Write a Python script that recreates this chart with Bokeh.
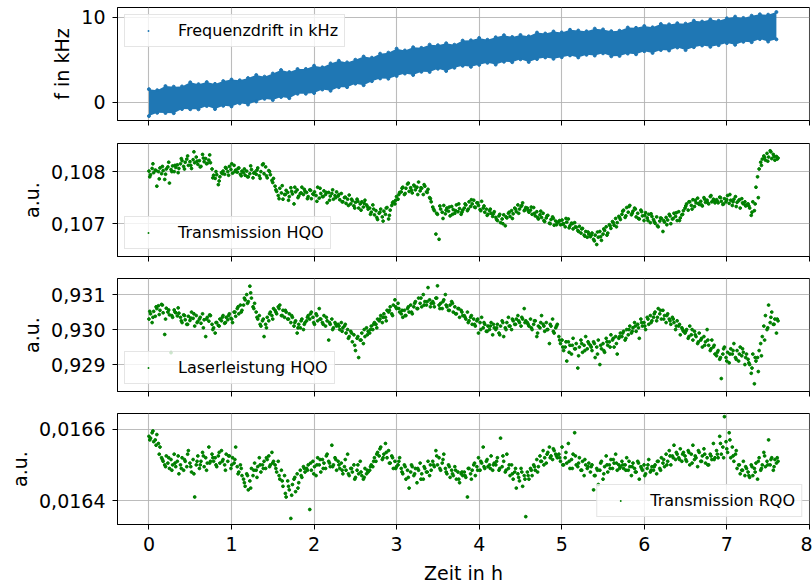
import numpy as np
from bokeh.plotting import figure
from bokeh.layouts import column
from bokeh.models import (Range1d, FixedTicker, CustomJSTickFormatter, Legend,
                          LegendItem, ColumnDataSource)
from bokeh.embed import file_html
from bokeh.resources import INLINE

# ---------------- data ----------------
# Frequenzdrift: upper / lower edge of the dense point band (kHz), every 0.1 h
t_edge = [round(0.1 * i, 1) for i in range(77)]
freq_upper = [1.55, 1.43, 1.91, 1.84, 1.87, 2.35, 2.14, 2.38, 2.17, 2.50,
              2.68, 2.59, 2.85, 3.21, 3.02, 3.38, 3.79, 3.55, 3.91, 3.92,
              4.30, 4.11, 4.57, 4.88, 4.69, 5.00, 5.37, 5.24, 5.71, 5.83,
              6.30, 6.08, 6.46, 6.39, 6.77, 6.70, 6.93, 6.76, 7.24, 7.27,
              7.55, 7.34, 7.63, 7.87, 7.66, 7.90, 7.74, 8.18, 8.07, 8.31,
              8.20, 8.51, 8.42, 8.33, 8.64, 8.55, 8.35, 8.40, 8.77, 8.74,
              8.95, 8.80, 9.19, 9.14, 9.28, 9.23, 9.57, 9.47, 9.71, 9.56,
              9.85, 10.05, 9.90, 10.16, 10.32, 10.28, 10.59]
freq_lower = [-1.60, -1.22, -1.24, -1.26, -0.78, -0.80, -0.81, -0.42, -0.78, -0.40,
              -0.47, -0.11, -0.25, 0.11, 0.42, 0.28, 0.64, 0.50, 1.01, 1.02,
              1.10, 1.51, 1.37, 1.78, 1.79, 2.20, 2.02, 2.49, 2.81, 2.78,
              3.10, 3.38, 3.21, 3.59, 3.57, 3.95, 3.68, 4.06, 4.29, 4.17,
              4.40, 4.64, 4.43, 4.77, 4.71, 5.05, 4.74, 5.08, 5.27, 5.11,
              5.30, 5.51, 5.27, 5.58, 5.49, 5.75, 5.40, 5.45, 5.72, 5.64,
              6.00, 5.80, 6.14, 6.09, 6.43, 6.13, 6.47, 6.67, 6.51, 6.71,
              6.95, 6.75, 7.10, 7.06, 7.42, 7.13, 7.39]

# measurement times of the scans (h): main series and interleaved second series
t_scan = np.linspace(0.0, 7.62, 400)
t_scan2 = np.linspace(0.01, 7.61, 200)

# Transmission HQO: offset from 0.107 in units of 1e-6
trans_hqo_u = [
    1010, 940, 1060, 980, 1030, 720, 1000, 1070, 960, 1020, 850, 1050, 1090, 780, 1040, 1110, 1000, 1080, 1130, 1060,
    1150, 1210, 1100, 1180, 1240, 1120, 1190, 1060, 1230, 1170, 1280, 1140, 1210, 1100, 1330, 1190, 1250, 1160, 1220, 1170,
    1050, 930, 870, 940, 750, 900, 980, 1010, 950, 1060, 1000, 1100, 1040, 970, 1120, 1030, 990, 1070, 950, 1010,
    980, 930, 1010, 900, 960, 1040, 880, 990, 950, 1070, 920, 1000, 1130, 960, 1090, 880, 1020, 940, 830, 870,
    720, 620, 540, 680, 590, 470, 560, 640, 600, 520, 690, 570, 380, 610, 650, 530, 580, 700, 560, 620,
    600, 520, 650, 480, 570, 610, 540, 700, 490, 580, 520, 630, 560, 400, 600, 530, 580, 470, 540, 610,
    530, 460, 580, 420, 500, 390, 470, 550, 380, 440, 340, 410, 470, 300, 380, 420, 320, 450, 360, 280,
    300, 220, 360, 170, 250, 80, 200, 280, 130, 240, 180, 310, 90, 260, 350, 420, 380, 520, 470, 600,
    610, 700, 560, 680, 760, 620, 690, 590, 740, 650, 700, 800, 630, 680, 560, 720, 610, 660, 500, 420,
    320, 250, -200, 180, -300, 280, 220, 350, 190, 300, 240, 150, 330, 270, 200, 360, 230, 290, 180, 260,
    300, 360, 250, 420, 330, 380, 450, 310, 400, 350, 270, 430, 300, 220, 280, 180, 250, 200, 140, 230,
    120, 60, 150, 20, 90, 170, -40, 110, 200, 140, 250, 190, 300, 230, 360, 280, 330, 400, 250, 310,
    300, 220, 260, 180, 310, 150, 230, 90, 170, 120, 200, 40, 110, 160, 10, 80, 130, -30, 50, 20,
    40, -20, 70, 0, -60, 30, 90, -40, 10, -100, 20, -70, -130, -50, -180, -90, -220, -150, -260, -200,
    -250, -180, -300, -220, -400, -260, -150, -320, -200, -130, -60, -180, -20, -90, 40, -30, 100, 20, 140, 80,
    180, 260, 120, 310, 220, 350, 170, 240, 300, 130, 200, 90, 260, 150, 60, 210, 110, 180, 20, 140,
    80, 10, 130, -60, 50, 100, -150, 30, 120, 70, 180, 0, 90, 200, 140, 60, 230, 110, 170, 250,
    300, 380, 260, 420, 350, 460, 330, 400, 490, 370, 430, 340, 500, 410, 450, 380, 520, 420, 470, 400,
    460, 400, 510, 430, 370, 480, 420, 540, 390, 450, 350, 470, 520, 410, 440, 300, 480, 380, 420, 360,
    380, 300, 160, 420, 250, 700, 900, 1050, 1180, 1240, 1300, 1220, 1350, 1280, 1400, 1250, 1330, 1220, 1290, 1260,
]
trans_hqo_u2 = [
    900, 1150, 1020, 860, 1100, 950, 1180, 1000, 1120, 980,
    1250, 1050, 1300, 1120, 1380, 1200, 1090, 1260, 1150, 1320,
    880, 1000, 820, 960, 1080, 930, 1150, 1000, 1060, 920,
    1050, 900, 1110, 970, 1030, 870, 1150, 920, 1000, 790,
    650, 480, 730, 560, 450, 620, 700, 500, 590, 660,
    480, 640, 560, 430, 680, 520, 600, 450, 650, 500,
    560, 420, 510, 350, 470, 300, 430, 260, 390, 330,
    180, 280, 120, 220, 50, 300, 160, 400, 450, 560,
    680, 580, 780, 640, 720, 560, 690, 750, 600, 480,
    280, 200, 340, 100, 260, 320, 180, 250, 380, 220,
    380, 280, 460, 320, 400, 250, 340, 160, 280, 190,
    80, 180, 0, 130, 220, 100, 280, 200, 350, 270,
    250, 320, 200, 120, 240, 60, 150, 0, 100, -20,
    60, -10, 100, -80, 0, -60, -150, -100, -240, -160,
    -220, -330, -160, -250, -100, -220, -40, 20, -60, 120,
    240, 150, 330, 200, 280, 100, 230, 160, 60, 190,
    40, -40, 110, 60, -20, 150, 100, 210, 60, 180,
    340, 420, 280, 450, 390, 360, 470, 400, 540, 440,
    430, 500, 380, 460, 560, 420, 330, 460, 400, 340,
    340, 220, 380, 500, 1120, 1270, 1200, 1380, 1290, 1240,
]

# Laserleistung HQO: offset from 0.930 in units of 1e-6
laser_hqo_u = [
    300, 450, 200, 520, 380, 600, 680, 550, 720, 480, -140, 610, 500, 420, -660, 350, 560, 480, 390, 470,
    350, 200, 420, 280, 150, 380, 260, 500, 320, 100, 400, 230, 300, 180, 450, 280, -200, 350, 240, 400,
    150, 50, -100, 200, 120, 300, 250, 400, 180, 350, 280, 450, 320, 200, 500, 380, 600, 450, 700, 550,
    700, 850, 1000, 800, 1240, 900, 650, 750, 500, 300, 400, 100, 250, -200, 150, 350, 250, 500, 400, 600,
    550, 450, 650, 700, 400, 550, 350, 500, 300, 450, 200, 350, 100, 250, -100, 150, 50, 300, 0, 200,
    250, 400, 300, 500, 350, 150, 450, 250, 600, 300, 200, 400, 100, 250, -300, 150, 300, 50, 200, 100,
    150, 0, 200, 50, 100, -100, 0, -200, -50, -350, -150, -600, -250, -800, -300, -100, -400, -200, 50, -50,
    -100, 100, 0, 200, 150, 300, 250, 400, 200, 450, 350, 550, 500, 650, 450, 700, 850, 600, 750, 500,
    450, 350, 550, 400, 600, 500, 700, 450, 650, 800, 600, 900, 750, 650, 1000, 800, 700, 1200, 850, 750,
    800, 650, 900, 1250, 700, 750, 600, 850, 1000, 650, 550, 700, 800, 500, 650, 450, 600, 350, 550, 400,
    400, 300, 500, 250, 350, 150, 300, 100, 250, -100, 200, 350, 50, 150, -50, 100, 0, 200, -150, 50,
    0, 150, -100, 100, 250, -200, 50, 200, 350, 100, 0, 250, 150, 300, 400, 200, 100, 300, 600, 250,
    200, 100, 300, 0, 150, 250, -200, 100, 50, 400, 150, -50, 200, 0, -400, 100, 300, -100, 50, 150,
    -200, -400, -300, -600, -500, -900, -350, -450, -700, -250, -550, -400, -1100, -500, -300, -650, -450, -200, -550, -400,
    -450, -600, -350, -800, -500, -300, -1000, -550, -400, -650, -250, -450, -350, -150, -300, -500, -200, -700, -250, -100,
    -200, -50, -300, 0, -150, 100, -100, 50, 200, -50, 150, -250, 300, 100, 200, 0, 350, 150, 400, 250,
    350, 500, 250, 600, 450, 300, 550, 400, 200, 450, 300, 150, 350, 200, 0, 250, 100, -150, 50, -50,
    -100, 0, -250, 100, -150, -300, -50, -200, -400, -100, -300, -500, -200, -350, 0, -450, -600, -300, -500, -700,
    -750, -600, -850, -1400, -700, -500, -800, -650, -950, -550, -700, -400, -800, -600, -900, -500, -750, -650, -1000, -700,
    -850, -1000, -1250, -700, -1550, -900, -800, -600, -400, -200, 100, 400, 0, 700, 200, 500, 150, 300, -100, 250,
]
laser_hqo_u2 = [
    520, 350, 650, 430, 700, 300, 560, 400, 500, 620,
    250, 400, 150, 330, 450, 200, 350, 50, 300, 420,
    0, 200, 100, 350, 200, 400, 300, 500, 650, 500,
    900, 750, 1050, 600, 350, 150, 300, 50, 450, 300,
    500, 600, 400, 550, 300, 400, 200, 50, 250, 150,
    350, 450, 200, 400, 300, 150, 350, 200, 0, 150,
    100, -50, 150, -250, -100, -450, -200, -300, 0, -150,
    0, 150, 50, 300, 350, 250, 550, 400, 650, 600,
    550, 400, 650, 500, 750, 600, 900, 700, 800, 650,
    750, 900, 600, 800, 700, 550, 750, 450, 600, 500,
    350, 200, 400, 150, 300, 0, 200, -50, 100, 150,
    50, -150, 200, 0, 100, 300, 150, 250, 350, 200,
    150, 50, 250, -100, 200, 100, 0, 150, -50, 100,
    -300, -500, -350, -650, -450, -550, -750, -400, -600, -350,
    -500, -400, -700, -450, -600, -350, -500, -250, -400, -200,
    -100, -250, 0, -50, 100, 50, 200, 100, 300, 200,
    450, 350, 550, 300, 400, 250, 300, 100, 150, 0,
    -50, -200, 0, -150, -350, -250, -450, -300, -550, -450,
    -650, -800, -550, -900, -700, -600, -850, -700, -550, -800,
    -950, -1100, -800, -1200, -750, -300, 50, 350, 150, 300,
]

# Transmission RQO: offset from 0.0164 in units of 1e-7
trans_rqo_u = [
    1800, 1750, 1900, 1650, 1700, 1850, 1600, 1500, 1200, 1100, 1000, 1250, 1050, 900, 1150, 1000, 1300, 950, 1100, 750,
    1000, 1200, 850, 1100, 950, 1400, 1050, 800, 1150, 100, 1000, 1250, 900, 1100, 1350, 950, 1200, 1050, 1500, 1100,
    1300, 1100, 1200, 950, 1250, 1050, 1400, 1150, 1000, 1300, 1100, 1250, 900, 1200, 1050, 1500, 950, 800, 1000, 700,
    600, 400, 750, 300, 550, 900, 700, 1050, 850, 950, 1200, 800, 1000, 1100, 900, 1150, 1250, 1000, 1350, 1100,
    1000, 800, 1100, 600, 850, 400, 700, 100, 550, 300, -500, 450, 600, 250, 750, 500, 850, 650, 950, 800,
    900, 1000, -250, 850, 1100, 950, 700, 1200, 1000, 800, 1150, 1050, 900, 1300, 1100, 950, 1550, 1000, 1200, 850,
    1100, 900, 1050, 750, 950, 850, 1300, 700, 900, 800, 1000, 650, 850, 750, 1100, 700, 600, 900, 750, 800,
    850, 1000, 950, 1200, 1100, 1350, 1250, 1500, 1150, 1300, 1600, 1200, 1400, 1050, 1250, 900, 1100, 950, 1000, 1200,
    900, 750, 1000, 600, 850, 350, 800, 950, 700, 900, 500, 850, 1050, 750, 600, 900, 800, 1100, 700, 850,
    1100, 950, 1400, 1000, 1200, 850, 1050, 1300, 900, 750, 1000, 650, 850, 700, 950, 600, 800, 500, 750, 700,
    800, 650, 100, 900, 750, 850, 1000, 700, 950, 1200, 850, 1050, 1500, 900, 1100, 950, 1000, 1250, 850, 1050,
    1000, 1200, 850, 1750, 950, 1100, 800, 1300, 900, 700, 1000, 600, 800, 350, 750, 550, 900, 400, 700, -450,
    800, 600, 900, 700, 1000, 850, 1150, 950, 1250, 1100, 1400, 1200, 1050, 1350, 1500, 1250, 1150, 1400, 1300, 1200,
    1300, 1100, 1500, 1000, 1200, 1050, 1600, 900, 1150, 1300, 1900, 1000, 950, 1200, 850, 1100, 700, 1000, 900, 1050,
    800, 1000, 300, 700, 900, 450, 850, 1100, 600, 950, 1250, 800, 1000, 1150, 900, 1050, 1300, 850, 1000, 950,
    1100, 900, 1000, 1200, 850, 950, 700, 1050, 900, 800, 1100, 600, 950, 850, 1000, 750, 900, 1150, 800, 950,
    850, 1000, 750, 1100, 900, 1200, 1050, 950, 1300, 1100, 1400, 1000, 1250, 1550, 1150, 1300, 1200, 1450, 1100, 1350,
    1250, 1100, 1400, 1000, 1300, 1550, 1150, 1200, 950, 1350, 1100, 1250, 1450, 1050, 1200, 1000, 1300, 1150, 1600, 1200,
    1400, 1200, 1800, 1300, 1500, 2350, 1650, 1350, 1900, 1200, 1500, 1100, 1300, 900, 1000, 750, 850, 1100, 700, 900,
    800, 650, 1000, 700, 900, 1050, 600, 1200, 850, 1000, 1350, 950, 1100, 1700, 1000, 1200, 850, 1150, 1050, 1100,
]
trans_rqo_u2 = [
    1700, 1950, 1550, 1300, 1150, 950, 1200, 850, 1050, 1250,
    900, 1150, 1300, 950, 750, 1100, 1000, 1250, 850, 1050,
    1200, 1000, 1350, 1100, 850, 1250, 1000, 1150, 750, 900,
    500, 700, 350, 850, 650, 1000, 900, 1200, 950, 1050,
    900, 700, 550, 200, 400, 150, 650, 350, 700, 900,
    850, 1050, 750, 1000, 1150, 900, 1250, 1050, 950, 1150,
    1000, 850, 1150, 750, 900, 600, 1000, 800, 650, 850,
    950, 1100, 1300, 1450, 1200, 1350, 1050, 1200, 900, 1100,
    800, 950, 650, 1000, 750, 900, 600, 950, 800, 1000,
    1000, 1250, 900, 1150, 800, 950, 750, 850, 600, 800,
    700, 900, 600, 1050, 850, 1100, 950, 1150, 900, 1000,
    1100, 900, 1250, 850, 1000, 750, 900, 650, 800, 600,
    700, 850, 950, 800, 1100, 1000, 1300, 1200, 1450, 1250,
    1200, 1000, 1350, 1100, 900, 1250, 1050, 850, 1150, 950,
    950, 700, 850, 1050, 750, 1000, 900, 1150, 1050, 900,
    1000, 850, 1100, 950, 800, 1050, 900, 700, 1000, 850,
    950, 1100, 850, 1150, 1000, 1250, 1200, 1350, 1150, 1300,
    1150, 1350, 1050, 1250, 1400, 1100, 1300, 1000, 1250, 1150,
    1300, 1600, 1200, 1450, 1700, 1250, 1400, 1000, 850, 950,
    700, 950, 800, 1100, 900, 1250, 1000, 1150, 950, 1200,
]

x_ticks = [0, 1, 2, 3, 4, 5, 6, 7, 8]

# ---------------- styling ----------------
FONT = "DejaVu Sans"
TICK_FS = "19px"
LEG_FS = "16px"
BLUE = "#1f77b4"
GREEN = "#008000"

x_range = Range1d(-0.381, 8.001)


def fmt(decimals):
    return CustomJSTickFormatter(
        code=f"return tick.toFixed({decimals}).replace('.', ',');")


def make_fig(y_lo, y_hi, y_ticks, decimals, ylabel, height, top, bottom, last=False):
    p = figure(width=812, height=height, x_range=x_range,
               y_range=Range1d(y_lo, y_hi), output_backend="svg",
               toolbar_location=None, min_border_left=117,
               min_border_right=3, min_border_top=top,
               min_border_bottom=bottom)
    p.background_fill_color = "white"
    p.border_fill_color = "white"
    p.outline_line_color = "black"
    p.outline_line_width = 1
    p.outline_line_alpha = 1
    p.xaxis.ticker = FixedTicker(ticks=x_ticks)
    p.yaxis.ticker = FixedTicker(ticks=y_ticks)
    p.yaxis.formatter = fmt(decimals)
    for ax in (p.xaxis[0], p.yaxis[0]):
        ax.major_tick_in = 0
        ax.major_tick_out = 5
        ax.minor_tick_line_color = None
        ax.axis_line_color = "black"
        ax.major_tick_line_color = "black"
        ax.major_label_text_font = FONT
        ax.major_label_text_font_size = TICK_FS
        ax.major_label_text_color = "black"
        ax.major_label_standoff = 7
        ax.axis_label_text_font = FONT
        ax.axis_label_text_font_size = TICK_FS
        ax.axis_label_text_font_style = "normal"
        ax.axis_label_text_color = "black"
        ax.axis_label_standoff = 5
    p.yaxis.axis_label = ylabel
    if last:
        p.xaxis.axis_label = "Zeit in h"
        p.xaxis.axis_label_standoff = 8
        p.xaxis.major_label_standoff = 7
    else:
        p.xaxis.formatter = CustomJSTickFormatter(code="return '';")
        p.xaxis.major_label_text_font_size = "0px"
    p.grid.grid_line_color = "#b0b0b0"
    p.grid.grid_line_width = 1.1
    p.grid.grid_line_alpha = 0.85
    return p


def add_legend(p, renderer, label, location):
    leg = Legend(items=[LegendItem(label=label, renderers=[renderer])],
                 location=location, margin=7, padding=6, spacing=0,
                 glyph_width=34, glyph_height=19, label_height=19,
                 label_standoff=13, label_text_font=FONT,
                 label_text_font_size=LEG_FS, label_text_color="black",
                 background_fill_color="white", background_fill_alpha=0.8,
                 border_line_color="#cccccc", border_line_width=1)
    p.add_layout(leg)


# --- panel 1: frequency drift
p1 = make_fig(-2.12, 11.12, [0, 10], 0, "f in kHz", 142, 7, 22)
band = ColumnDataSource(dict(t=t_edge, lo=freq_lower, hi=freq_upper))
p1.varea(x="t", y1="lo", y2="hi", source=band, fill_color=BLUE, fill_alpha=1)
edge_pts = ColumnDataSource(dict(t=list(t_edge) + list(t_edge),
                                 f=list(freq_upper) + list(freq_lower)))
p1.scatter(x="t", y="f", source=edge_pts, size=3, color=BLUE)
# legend key: small dots at the same data points
k1 = p1.scatter(x="t", y="f", source=edge_pts, marker="dot", size=8, color=BLUE)
add_legend(p1, k1, "Frequenzdrift in kHz", "top_left")


def scan_source(base, scale, u1, u2):
    t = np.concatenate([t_scan, t_scan2])
    v = base + np.concatenate([np.array(u1), np.array(u2)]) * scale
    return ColumnDataSource(dict(t=t, v=v))


def scan_panel(p, src, label, location):
    p.scatter(x="t", y="v", source=src, size=2.8, color=GREEN)
    key = p.scatter(x="t", y="v", source=src, marker="dot", size=8, color=GREEN)
    add_legend(p, key, label, location)


# --- panel 2: Transmission HQO
p2 = make_fig(0.10637, 0.10854, [0.107, 0.108], 3, "a.u.", 135, 1, 21)
scan_panel(p2, scan_source(0.107, 1e-6, trans_hqo_u, trans_hqo_u2),
           "Transmission HQO", "bottom_left")

# --- panel 3: Laserleistung HQO
p3 = make_fig(0.92823, 0.93146, [0.929, 0.930, 0.931], 3, "a.u.", 135, 1, 21)
scan_panel(p3, scan_source(0.930, 1e-6, laser_hqo_u, laser_hqo_u2),
           "Laserleistung HQO", "bottom_left")

# --- panel 4: Transmission RQO
p4 = make_fig(0.016333, 0.016644, [0.0164, 0.0166], 4, "a.u.", 174, 1, 60, last=True)
scan_panel(p4, scan_source(0.0164, 1e-7, trans_rqo_u, trans_rqo_u2),
           "Transmission RQO", "bottom_right")

layout = column(p1, p2, p3, p4, spacing=0)
open("out.html", "w").write(file_html(layout, INLINE))
